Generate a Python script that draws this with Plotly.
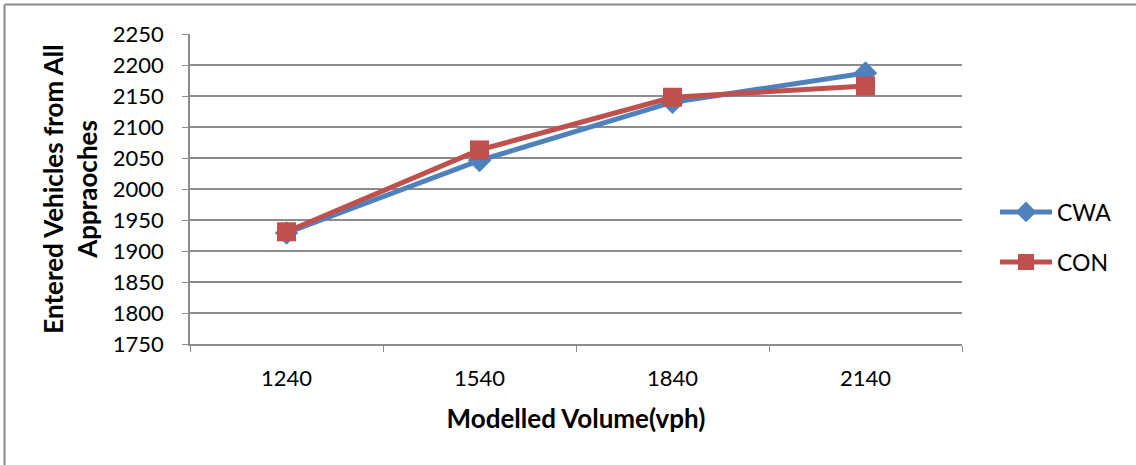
import plotly.graph_objects as go

categories = ["1240", "1540", "1840", "2140"]
cwa = [1929, 2046, 2140, 2187]
con = [1931, 2063, 2148, 2166]
y_ticks = list(range(1750, 2251, 50))

FONT = "Lato, Open Sans, sans-serif"
GRID = "#8c8c8c"

L, R, T, B = 190, 1136 - 962, 34, 465 - 344
W, H = 1136, 465
pw, ph = W - L - R, H - T - B

def px2x(px):
    return (px - L) / pw

def py2y(py):
    return (H - B - py) / ph

fig = go.Figure()
fig.add_trace(go.Scatter(
    x=categories, y=cwa, name="CWA", mode="lines+markers", legend="legend",
    line=dict(color="#4F81BD", width=5),
    marker=dict(symbol="diamond", size=18, color="#4F81BD"),
))
fig.add_trace(go.Scatter(
    x=categories, y=con, name="CON", mode="lines+markers", legend="legend2",
    line=dict(color="#C0504D", width=5),
    marker=dict(symbol="square", size=19, color="#C0504D"),
))

leg_common = dict(xanchor="left", yanchor="middle", font=dict(size=23),
                  itemwidth=52, bgcolor="rgba(0,0,0,0)")

fig.update_layout(
    width=W, height=H,
    margin=dict(l=L, r=R, t=T, b=B),
    paper_bgcolor="white", plot_bgcolor="white",
    font=dict(family=FONT, size=22, color="black"),
    showlegend=True,
    legend=dict(x=px2x(995), y=py2y(212), **leg_common),
    legend2=dict(x=px2x(995), y=py2y(262), **leg_common),
    xaxis=dict(
        type="category", showgrid=False, showline=True, linecolor=GRID, linewidth=1.5,
        ticks="outside", tickson="boundaries", ticklen=6, tickcolor=GRID,
        tickfont=dict(size=22), range=[-0.5, 3.5], ticklabelstandoff=14,
        title=dict(text="<b>Modelled Volume(vph)</b>", font=dict(size=26), standoff=20),
    ),
    yaxis=dict(
        range=[1750, 2250], tickvals=y_ticks, showgrid=True, gridcolor=GRID, gridwidth=1.5,
        showline=True, linecolor=GRID, linewidth=1.5, ticks="outside", ticklen=6,
        tickcolor=GRID, tickfont=dict(size=22), ticklabelstandoff=14, zeroline=False,
        title=dict(text="<b>Entered Vehicles from All<br>Appraoches</b>", font=dict(size=26), standoff=8),
    ),
    shapes=[
        dict(type="line", xref="paper", yref="paper", x0=px2x(4.5), x1=px2x(1200),
             y0=py2y(4.5), y1=py2y(4.5), line=dict(color="#8a8a8a", width=2)),
        dict(type="line", xref="paper", yref="paper", x0=px2x(4.5), x1=px2x(4.5),
             y0=py2y(4.5), y1=py2y(470), line=dict(color="#8a8a8a", width=2)),
    ],
)

fig.write_html("out.html")
